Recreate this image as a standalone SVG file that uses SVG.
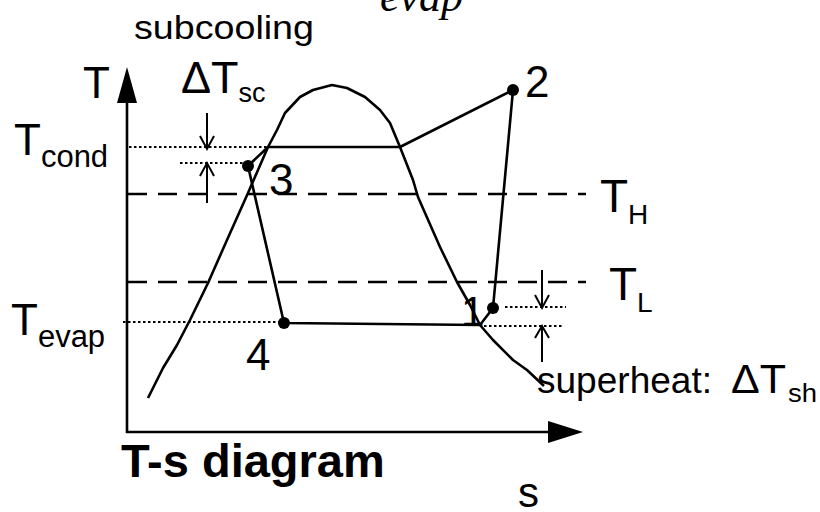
<svg xmlns="http://www.w3.org/2000/svg" width="820" height="512" viewBox="0 0 820 512">
<style>
.ln{fill:none;stroke:#000;stroke-width:2.6;stroke-linejoin:round}
.ds{fill:none;stroke:#000;stroke-width:2.6;stroke-dasharray:19,11}
.dt{fill:none;stroke:#000;stroke-width:2;stroke-dasharray:2.5,2.5}
.ar{fill:none;stroke:#000;stroke-width:2}
.t{font-family:"Liberation Sans",Arial,sans-serif;fill:#000}
.dot{fill:#000}
</style>
<rect width="820" height="512" fill="#fff"/>
<text x="380" y="11" style="font-family:'Liberation Serif','Times New Roman',serif;font-style:italic;font-size:44px">evap</text>
<g id="axes">
<line class="ln" x1="127" y1="100" x2="127" y2="433"/>
<polygon points="127,67 117,103 137,103" fill="#000"/>
<line class="ln" x1="126" y1="432" x2="550" y2="432"/>
<polygon points="583,432 548,421 548,443" fill="#000"/>
<text class="t" x="83" y="98" font-size="44">T</text>
<text class="t" x="518" y="507" font-size="42">s</text>
<text class="t" x="121" y="477" font-size="47" font-weight="bold">T-s diagram</text>
</g>
<g id="levels">
<line class="ds" x1="128" y1="194" x2="586" y2="194"/>
<line class="ds" x1="128" y1="282" x2="586" y2="282"/>
<line class="dt" x1="129" y1="147" x2="268" y2="147"/>
<line class="dt" x1="180" y1="163" x2="243" y2="163"/>
<line class="dt" x1="123" y1="322" x2="280" y2="322"/>
<line class="dt" x1="505" y1="307" x2="566" y2="307"/>
<line class="dt" x1="484" y1="326" x2="564" y2="326"/>
<text class="t" x="14" y="155" font-size="44">T<tspan font-size="31" dy="12">cond</tspan></text>
<text class="t" x="11" y="335" font-size="44">T<tspan font-size="31" dy="12">evap</tspan></text>
<text class="t" x="600" y="212" font-size="46">T<tspan font-size="28" dy="12">H</tspan></text>
<text class="t" x="609" y="300" font-size="46">T<tspan font-size="28" dy="12">L</tspan></text>
</g>
<g id="dome">
<polyline class="ln" points="148,398 155,384 163,368 177,345 190,320 208,283 227,240 248,193 258,170 268,147 277,130 285,113 300,97 313,90 332,85 347,88 365,97 380,110 390,123 400,147 413,180 418,197 440,247 457,282 470,305 480,325 493,340 513,360 527,370 544,386"/>
</g>
<g id="connectors">
<polyline class="ln" points="248,166 268,147 400,147 513,90 493,308 480,325 284,323 248,166"/>
</g>
<g id="state1"><circle class="dot" cx="493" cy="308" r="6"/><text class="t" x="461" y="326" font-size="42">1</text></g>
<g id="state2"><circle class="dot" cx="513" cy="90" r="6"/><text class="t" x="525" y="97" font-size="44">2</text></g>
<g id="state3"><circle class="dot" cx="248" cy="166" r="6"/><text class="t" x="269" y="195" font-size="44">3</text></g>
<g id="state4"><circle class="dot" cx="284" cy="323" r="6"/><text class="t" x="246" y="370" font-size="44">4</text></g>
<g id="subcooling">
<text class="t" x="134" y="39" font-size="34" textLength="180" lengthAdjust="spacingAndGlyphs">subcooling</text>
<text class="t" x="181" y="93" font-size="45">ΔT<tspan font-size="27" dy="9">sc</tspan></text>
<line class="ar" x1="207" y1="113" x2="207" y2="148"/>
<polyline class="ar" points="200,136 207,149 214,136"/>
<line class="ar" x1="207" y1="203" x2="207" y2="165"/>
<polyline class="ar" points="200,176 207,163 214,176"/>
</g>
<g id="superheat">
<text class="t" x="537" y="393" font-size="37" textLength="175" lengthAdjust="spacingAndGlyphs">superheat:</text>
<text class="t" x="731" y="393" font-size="40" textLength="55" lengthAdjust="spacingAndGlyphs">ΔT</text>
<text class="t" x="788" y="402" font-size="25" textLength="29" lengthAdjust="spacingAndGlyphs">sh</text>
<line class="ar" x1="542" y1="270" x2="542" y2="306"/>
<polyline class="ar" points="535,295 542,308 549,295"/>
<line class="ar" x1="542" y1="362" x2="542" y2="328"/>
<polyline class="ar" points="535,338 542,326 549,338"/>
</g>
</svg>
